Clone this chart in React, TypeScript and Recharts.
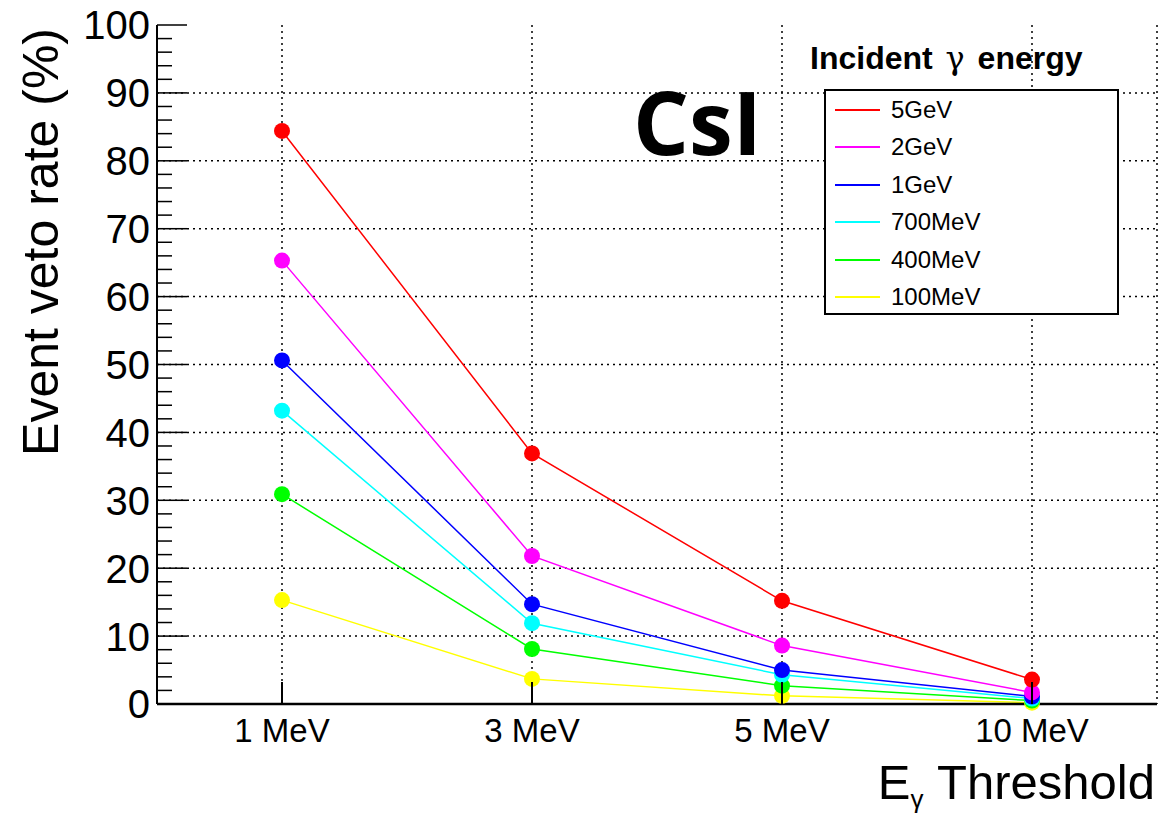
import { LineChart, Line, XAxis, YAxis, CartesianGrid, ReferenceLine, Legend, Customized } from "recharts"

const categories = ['1 MeV', '3 MeV', '5 MeV', '10 MeV']
const gev5 = [84.4, 36.9, 15.2, 3.6]
const gev2 = [65.3, 21.8, 8.6, 1.7]
const gev1 = [50.6, 14.7, 5.0, 1.1]
const mev700 = [43.2, 11.9, 4.3, 0.8]
const mev400 = [30.9, 8.1, 2.7, 0.5]
const mev100 = [15.3, 3.7, 1.2, 0.2]

const yTicks = [0, 2, 4, 6, 8, 10, 12, 14, 16, 18, 20, 22, 24, 26, 28, 30, 32, 34, 36, 38, 40, 42, 44, 46, 48, 50,
  52, 54, 56, 58, 60, 62, 64, 66, 68, 70, 72, 74, 76, 78, 80, 82, 84, 86, 88, 90, 92, 94, 96, 98, 100]
const gridValues = [10, 20, 30, 40, 50, 60, 70, 80, 90]

const data = categories.map((name, i) => ({
  name,
  gev5: gev5[i],
  gev2: gev2[i],
  gev1: gev1[i],
  mev700: mev700[i],
  mev400: mev400[i],
  mev100: mev100[i],
}))

// drawn bottom-up so red ends on top
const series = [
  { key: 'mev100', label: '100MeV', color: '#ffff00' },
  { key: 'mev400', label: '400MeV', color: '#00ff00' },
  { key: 'mev700', label: '700MeV', color: '#00ffff' },
  { key: 'gev1', label: '1GeV', color: '#0000ff' },
  { key: 'gev2', label: '2GeV', color: '#ff00ff' },
  { key: 'gev5', label: '5GeV', color: '#ff0000' },
]

const font = 'Liberation Sans, Arial, Helvetica, sans-serif'

const YTick = (props: any) => {
  const { x, y, payload } = props
  const major = payload.value % 10 === 0
  return (
    <g>
      <line x1={x} x2={x + (major ? 30 : 15)} y1={y} y2={y} stroke="#000" strokeWidth={1.5} />
      {major && (
        <text x={x - 7} y={y} dy="0.36em" textAnchor="end" fontSize={40} fontFamily={font} fill="#000">
          {payload.value}
        </text>
      )}
    </g>
  )
}

const XTick = (props: any) => {
  const { x, y, payload } = props
  return (
    <g>
      <line x1={x} x2={x} y1={y} y2={y - 22} stroke="#000" strokeWidth={2} />
      <text x={x} y={y + 38} textAnchor="middle" fontSize={33} fontFamily={font} fill="#000">
        {payload.value}
      </text>
    </g>
  )
}

const renderLegend = () => {
  const items = [...series].reverse()
  return (
    <div style={{ position: 'relative', width: 340, height: 290, fontFamily: font }}>
      <div style={{ position: 'absolute', left: 10, top: 0, fontSize: 32, fontWeight: 'bold', lineHeight: '40px', whiteSpace: 'nowrap' }}>
        Incident <span style={{ fontWeight: 'normal', fontFamily: 'DejaVu Serif, serif', margin: '0 4px' }}>γ</span> energy
      </div>
      <div style={{ position: 'absolute', left: 24, top: 51, width: 295, height: 226, border: '2px solid #000', boxSizing: 'border-box', background: '#fff' }}>
        {items.map(item => (
          <div key={item.key} style={{ height: 37.5, display: 'flex', alignItems: 'center' }}>
            <div style={{ marginLeft: 9, width: 45, height: 2, background: item.color }} />
            <div style={{ marginLeft: 11, fontSize: 24, color: '#000' }}>{item.label}</div>
          </div>
        ))}
      </div>
    </div>
  )
}

export default function App() {
  return (
    <div style={{ position: 'absolute', left: 0, top: 0, width: 1165, height: 817, background: '#fff' }}>
      <LineChart width={1165} height={817} data={data} margin={{ top: 25, right: 8, bottom: 0, left: 0 }}>
        <CartesianGrid horizontal={false} stroke="#000" strokeDasharray="2 4" strokeWidth={1.5} />
        {gridValues.map(v => (
          <ReferenceLine key={v} y={v} stroke="#000" strokeDasharray="2 4" strokeWidth={1.5} />
        ))}
        <XAxis
          dataKey="name"
          height={113}
          interval={0}
          padding={{ left: 125, right: 125 }}
          tickSize={0}
          tickMargin={0}
          tick={<XTick />}
          tickLine={false}
          axisLine={{ stroke: '#000', strokeWidth: 2.5 }}
          label={{
            content: () => (
              <text x={1155} y={799} textAnchor="end" fontFamily={font} fill="#000" fontSize={49}>
                E<tspan fontSize={26} dy={9}>γ</tspan><tspan dy={-9}> Threshold</tspan>
              </text>
            ),
          }}
        />
        <XAxis xAxisId="top" orientation="top" dataKey="name" height={0} padding={{ left: 125, right: 125 }} tick={false} tickLine={false} axisLine={{ stroke: '#000', strokeWidth: 2 }} />
        <YAxis
          type="number"
          domain={[0, 100]}
          ticks={yTicks}
          interval={0}
          width={157}
          tickSize={0}
          tickMargin={0}
          tick={<YTick />}
          tickLine={false}
          axisLine={{ stroke: '#000', strokeWidth: 2 }}
          label={{
            content: () => (
              <text transform="translate(58, 28) rotate(-90)" textAnchor="end" fontFamily={font} fill="#000" fontSize={50}>
                Event veto rate (%)
              </text>
            ),
          }}
        />
        <YAxis yAxisId="right" orientation="right" domain={[0, 100]} width={0} tick={false} tickLine={false} axisLine={{ stroke: '#000', strokeWidth: 2 }} />
        {series.map(s => (
          <Line
            key={s.key}
            dataKey={s.key}
            name={s.label}
            stroke={s.color}
            strokeWidth={1.5}
            dot={{ r: 8, fill: s.color, stroke: 'none' }}
            isAnimationActive={false}
          />
        ))}
        <Legend verticalAlign="middle" align="center" content={renderLegend} wrapperStyle={{ left: 800, top: 38, width: 340 }} />
        <Customized
          component={() => (
            <text x={633} y={155} fontFamily="Open Sans, sans-serif" fontWeight="bold" fontSize={88} fill="#000">
              CsI
            </text>
          )}
        />
      </LineChart>
    </div>
  )
}
